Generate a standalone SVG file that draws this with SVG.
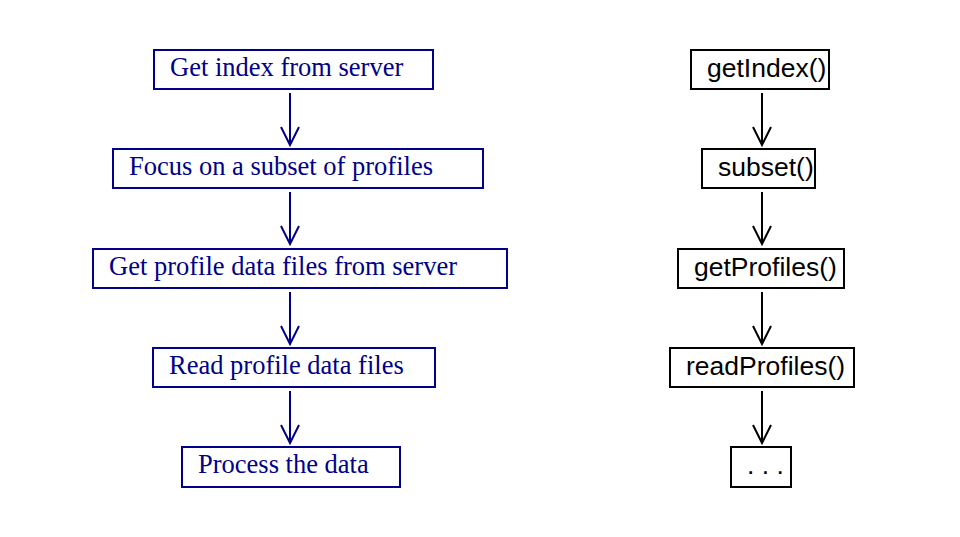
<svg xmlns="http://www.w3.org/2000/svg" width="960" height="537" viewBox="0 0 960 537">
<style>
.lb{fill:#fff;stroke:#000088;stroke-width:2}
.rb{fill:#fff;stroke:#000;stroke-width:2}
.lt{font-family:"Liberation Serif",serif;font-size:26.5px;fill:#000088}
.rt{font-family:"Liberation Sans",sans-serif;font-size:26.5px;fill:#000}
.la{fill:none;stroke:#000088;stroke-width:2}
.ra{fill:none;stroke:#000;stroke-width:2}
</style>
<rect width="960" height="537" fill="#fff"/>
<g id="connectors">
<path class="la" d="M290 93V145M281 127L290 145L299 127"/>
<path class="la" d="M290 192V244M281 226L290 244L299 226"/>
<path class="la" d="M290 292V344M281 326L290 344L299 326"/>
<path class="la" d="M290 391V443M281 425L290 443L299 425"/>
<path class="ra" d="M762 93V145M753 127L762 145L771 127"/>
<path class="ra" d="M762 192V244M753 226L762 244L771 226"/>
<path class="ra" d="M762 292V344M753 326L762 344L771 326"/>
<path class="ra" d="M762 391V443M753 425L762 443L771 425"/>
</g>
<g id="l1"><rect class="lb" x="154" y="50" width="279" height="39"/><text class="lt" x="170" y="76">Get index from server</text></g>
<g id="l2"><rect class="lb" x="113" y="149" width="370" height="39"/><text class="lt" x="129" y="175">Focus on a subset of profiles</text></g>
<g id="l3"><rect class="lb" x="93" y="249" width="414" height="39"/><text class="lt" x="109" y="275">Get profile data files from server</text></g>
<g id="l4"><rect class="lb" x="153" y="348" width="282" height="39"/><text class="lt" x="169" y="374">Read profile data files</text></g>
<g id="l5"><rect class="lb" x="182" y="447" width="218" height="40"/><text class="lt" x="198" y="473">Process the data</text></g>
<g id="r1"><rect class="rb" x="691" y="50" width="138" height="39"/><text class="rt" x="707" y="77">getIndex()</text></g>
<g id="r2"><rect class="rb" x="702" y="149" width="113" height="39"/><text class="rt" x="718" y="176">subset()</text></g>
<g id="r3"><rect class="rb" x="678" y="249" width="166" height="39"/><text class="rt" x="694" y="276">getProfiles()</text></g>
<g id="r4"><rect class="rb" x="670" y="348" width="184" height="39"/><text class="rt" x="686" y="375">readProfiles()</text></g>
<g id="r5"><rect class="rb" x="731" y="447" width="60" height="40"/><text class="rt" x="747" y="474">. . .</text></g>
</svg>
